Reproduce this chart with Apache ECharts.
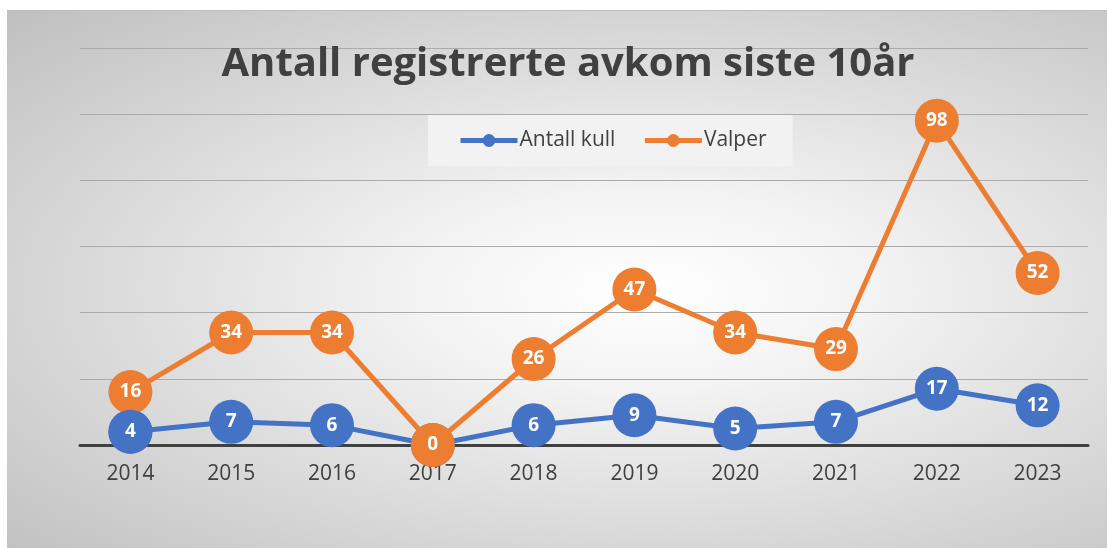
<!DOCTYPE html>
<html>
<head>
<meta charset="utf-8">
<script src="https://cdn.jsdelivr.net/npm/echarts@6/dist/echarts.min.js"></script>
<style>
  html, body { margin: 0; padding: 0; background: #ffffff; }
  #panel {
    position: absolute; left: 7px; top: 10px; width: 1100px; height: 538px;
    background: radial-gradient(ellipse farthest-corner at 58% 52%, #ffffff 0%, #f3f3f3 25%, #bfbfbf 100%);
    border-top: 1px solid #bdbdbd;
  }
  #chart { position: absolute; left: 0; top: 0; width: 1107px; height: 548px; }
</style>
</head>
<body>
<div id="panel"></div>
<div id="chart"></div>
<script>
const years = ['2014', '2015', '2016', '2017', '2018', '2019', '2020', '2021', '2022', '2023'];
const antallKull = [4, 7, 6, 0, 6, 9, 5, 7, 17, 12];
const valper = [16, 34, 34, 0, 26, 47, 34, 29, 98, 52];
const yTicks = [0, 20, 40, 60, 80, 100, 120];

const BLUE = '#4472C4';
const ORANGE = '#ED7D31';
const FONT = '"Open Sans", "Noto Sans", sans-serif';

const label = {
  show: true,
  position: 'inside',
  color: '#ffffff',
  fontFamily: FONT,
  fontWeight: 'bold',
  fontSize: 19
};

// Blue markers sit on top of orange ones where the two circles touch but differ
const kullOverlay = antallKull.map((v, i) => {
  const gap = valper[i] - v;
  return gap > 0 && gap < 14 ? v : null;
});

const chart = echarts.init(document.getElementById('chart'), null, { renderer: 'canvas' });
chart.setOption({
  backgroundColor: 'transparent',
  animation: false,
  title: {
    text: 'Antall registrerte avkom siste 10år',
    left: 563, top: 40, textAlign: 'center',
    textStyle: { fontFamily: FONT, fontWeight: 'bold', fontSize: 40, color: '#404040' }
  },
  legend: {
    data: ['Antall kull', 'Valper'],
    left: 428, top: 115,
    backgroundColor: '#f2f2f2',
    padding: [15, 26, 15, 30],
    itemWidth: 57, itemHeight: 16, itemGap: 27,
    lineStyle: { width: 5 },
    textStyle: { fontFamily: FONT, fontSize: 21, color: '#404040', padding: [0, 0, 0, -3] }
  },
  grid: { left: 80, right: 19, top: 48, bottom: 103 },
  xAxis: {
    type: 'category',
    data: years,
    boundaryGap: true,
    axisLine: { lineStyle: { color: '#404040', width: 3 } },
    axisTick: { show: false },
    axisLabel: { fontFamily: FONT, fontSize: 21, color: '#404040', margin: 19 }
  },
  yAxis: {
    type: 'value',
    min: yTicks[0], max: yTicks[yTicks.length - 1], interval: yTicks[1] - yTicks[0],
    axisLabel: { show: false },
    axisLine: { show: false },
    axisTick: { show: false },
    splitLine: { lineStyle: { color: '#ababab', width: 1 } }
  },
  series: [
    {
      name: 'Antall kull', type: 'line', data: antallKull, z: 2,
      symbol: 'circle', symbolSize: 44,
      lineStyle: { color: BLUE, width: 5 },
      itemStyle: { color: BLUE },
      label: label
    },
    {
      name: 'Valper', type: 'line', data: valper, z: 3,
      symbol: 'circle', symbolSize: 44,
      lineStyle: { color: ORANGE, width: 5 },
      itemStyle: { color: ORANGE },
      label: label
    },
    {
      name: 'Antall kull', type: 'line', data: kullOverlay, z: 4,
      symbol: 'circle', symbolSize: 44, connectNulls: false,
      lineStyle: { width: 0 },
      itemStyle: { color: BLUE },
      label: label
    }
  ]
});
</script>
</body>
</html>
